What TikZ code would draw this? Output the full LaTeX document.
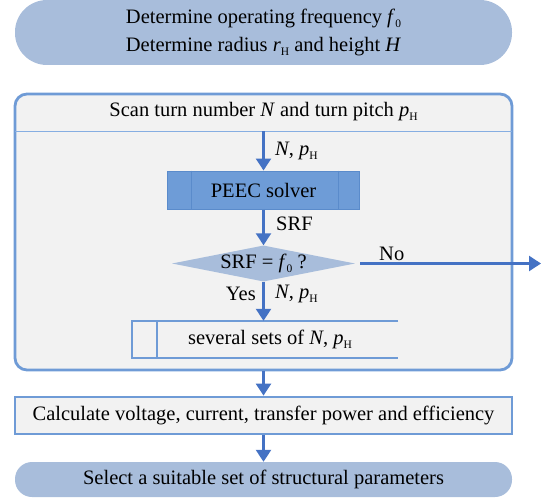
\documentclass[tikz,border=0pt]{standalone}
\usepackage{fontspec}
\setmainfont{Liberation Serif}
\usetikzlibrary{arrows.meta,shapes.geometric}
\definecolor{pale}{HTML}{A8BDDB}
\definecolor{edgeblue}{HTML}{6F9BD6}
\definecolor{sepblue}{HTML}{86AEE2}
\definecolor{arrblue}{HTML}{4472C4}
\definecolor{peecfill}{HTML}{6E9CD7}
\definecolor{peecedge}{HTML}{5A8BCB}
\definecolor{boxgray}{HTML}{F2F2F2}
\newcommand\lowsub[1]{\raisebox{-0.4ex}{\fontsize{11.5}{11.5}\selectfont #1}}
\tikzset{
  stadium/.style={fill=pale, rounded corners=17pt, minimum width=497pt, inner sep=0pt},
  arr/.style={draw=arrblue, line width=2.5pt, -{Triangle[length=12pt,width=15pt]}},
  lbl/.style={inner sep=0pt, anchor=west},
  edgebox/.style={draw=edgeblue, line width=2.8pt, fill=boxgray}
}
\begin{document}
\begin{tikzpicture}[x=1pt,y=-1pt, font=\fontsize{20.5}{24}\selectfont]
\useasboundingbox (0,0) rectangle (545,497);
% top stadium
\node (start) [stadium, rounded corners=32pt, minimum height=65pt, align=center,
  font=\fontsize{20.5}{28}\selectfont] at (263.5,32.5)
  {Determine operating frequency \textit{f}\lowsub{0}\\Determine radius \textit{r}\lowsub{H} and height \textit{H}};
% container
\node (scan) [edgebox, rounded corners=12pt, minimum width=497pt, minimum height=276pt] at (263.5,232) {};
\node (scantitle) at (263.5,112) {Scan turn number \textit{N} and turn pitch \textit{p}\lowsub{H}};
\coordinate (sepl) at (15,131.5);
\coordinate (sepr) at (512,131.5);
\coordinate (sepm) at (263.5,131.5);
\draw[sepblue, line width=1.6pt] (sepl) -- (sepr);
% PEEC solver
\node (peec) [fill=peecfill, draw=peecedge, line width=1pt, minimum width=192pt, minimum height=38pt] at (263.5,190) {PEEC solver};
\draw[peecedge, line width=1pt] ([xshift=24pt]peec.north west) -- ([xshift=24pt]peec.south west)
  ([xshift=-22pt]peec.north east) -- ([xshift=-22pt]peec.south east);
\draw[arr] (sepm) -- (peec.north);
\node[lbl] (np1) at (275,151) {\textit{N}, \textit{p}\lowsub{H}};
% decision
\node (dec) [diamond, fill=pale, minimum width=183pt, minimum height=35pt, inner sep=0pt, aspect=5] at (263.5,263.5) {SRF = \textit{f}\lowsub{0} ?};
\draw[arr] (peec.south) -- (dec.north);
\node[lbl] (srf) at (276,224) {SRF};
% No branch
\coordinate (noend) at (541,263.5);
\draw[arr] ([xshift=5pt]dec.east) -- (noend);
\node[lbl] (no) at (379,254) {No};
% several sets
\node (sets) [minimum width=266pt, minimum height=37pt, inner sep=0pt] at (265,339.5) {\hspace*{10pt}several sets of \textit{N}, \textit{p}\lowsub{H}};
\draw[edgeblue, line width=2.5pt] (sets.north east) -- (sets.north west) -- (sets.south west) -- (sets.south east);
\draw[edgeblue, line width=2.5pt] ([xshift=25pt]sets.north west) -- ([xshift=25pt]sets.south west);
\draw[arr] (dec.south) -- (dec.south |- sets.north);
\node[lbl, anchor=east] (yes) at (256,294) {Yes};
\node[lbl] (np2) at (275,294) {\textit{N}, \textit{p}\lowsub{H}};
% calculate
\node (calc) [edgebox, minimum width=497pt, minimum height=37pt] at (263.5,415.5) {Calculate voltage, current, transfer power and efficiency};
\draw[arr] (scan.south) -- (calc.north);
% select
\node (sel) [stadium, minimum height=35pt] at (263.5,479.5) {Select a suitable set of structural parameters};
\draw[arr] (calc.south) -- (sel.north);
\end{tikzpicture}
\end{document}
